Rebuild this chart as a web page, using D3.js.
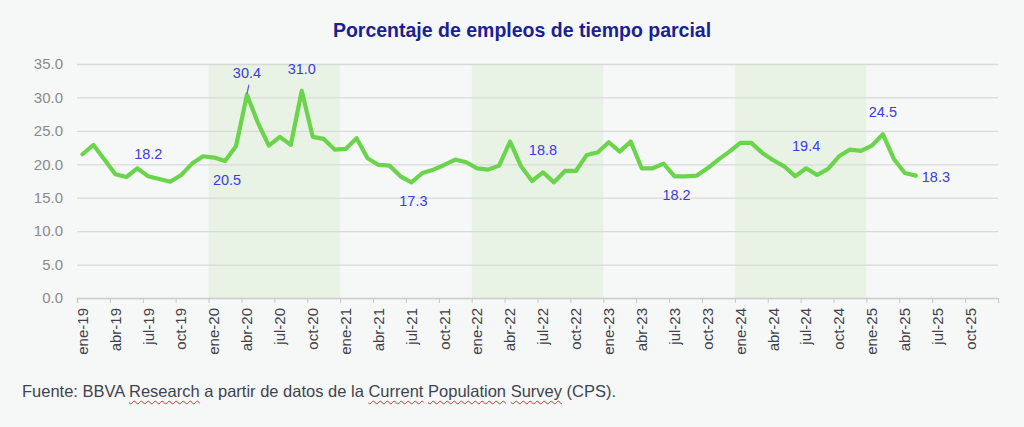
<!DOCTYPE html>
<html>
<head>
<meta charset="utf-8">
<script src="https://cdn.jsdelivr.net/npm/d3@7"></script>
<style>
  html, body { margin: 0; padding: 0; background: #f6f8f8; }
  #chart { position: relative; width: 1024px; height: 427px; font-family: "Liberation Sans", Arial, sans-serif; }
  #note { position: absolute; left: 22px; top: 382px; font-size: 16.5px; color: #3f4350; white-space: nowrap; }
  #note span { text-decoration: underline wavy #e03030; text-decoration-thickness: 1px; text-underline-offset: 3px; }
</style>
</head>
<body>
<div id="chart">
  <div id="note">Fuente: BBVA <span>Research</span> a partir de datos de la <span>Current</span> <span>Population</span> <span>Survey</span> (CPS).</div>
</div>
<script>
// serie mensual ene-19 .. may-25
const values = [
  21.5, 22.9, 20.7, 18.5, 18.1, 19.4, 18.2, 17.8, 17.4, 18.4, 20.1, 21.2,
  21.0, 20.5, 22.7, 30.4, 26.2, 22.8, 24.1, 22.9, 31.0, 24.1, 23.8, 22.2,
  22.3, 23.9, 20.9, 19.9, 19.8, 18.2, 17.3, 18.7, 19.2, 19.9, 20.7, 20.3,
  19.4, 19.2, 19.8, 23.4, 19.7, 17.5, 18.8, 17.3, 19.0, 19.0, 21.4, 21.8,
  23.3, 21.9, 23.4, 19.4, 19.4, 20.1, 18.2, 18.2, 18.3, 19.4, 20.7, 21.9,
  23.2, 23.2, 21.7, 20.6, 19.7, 18.2, 19.4, 18.4, 19.3, 21.2, 22.2, 22.0,
  22.8, 24.5, 20.8, 18.7, 18.3
];
const tickLabels = [
  'ene-19', 'abr-19', 'jul-19', 'oct-19', 'ene-20', 'abr-20', 'jul-20', 'oct-20',
  'ene-21', 'abr-21', 'jul-21', 'oct-21', 'ene-22', 'abr-22', 'jul-22', 'oct-22',
  'ene-23', 'abr-23', 'jul-23', 'oct-23', 'ene-24', 'abr-24', 'jul-24', 'oct-24',
  'ene-25', 'abr-25', 'jul-25', 'oct-25'
];
const totalMonths = 84;          // ene-19 .. dic-25
const yTicks = [0, 5, 10, 15, 20, 25, 30, 35];
const bands = [[12, 24], [36, 48], [60, 72]];   // meses sombreados
// etiquetas de datos: índice del mes y posición
const labelIdx = [6, 13, 15, 20, 30, 42, 54, 66, 73, 76];
const labelPos = ['above', 'below', 'above', 'above', 'below', 'above', 'below', 'above', 'above', 'right'];

const W = 1024, H = 427;
const FONT = '"Liberation Sans", Arial, sans-serif';
const svg = d3.select('#chart').append('svg')
  .attr('width', W).attr('height', H)
  .style('position', 'absolute').style('left', 0).style('top', 0);

const x = d3.scaleLinear().domain([0, totalMonths]).range([77, 998]);
const y = d3.scaleLinear().domain([0, 35]).range([298, 64]);

// bandas verdes
svg.append('g').selectAll('rect')
  .data(bands)
  .join('rect')
  .attr('x', d => x(d[0]))
  .attr('width', d => x(d[1]) - x(d[0]))
  .attr('y', y(35))
  .attr('height', y(0) - y(35))
  .attr('fill', '#e8f3e5');

// eje y + rejilla
const yAxis = svg.append('g')
  .attr('transform', `translate(${x(0)},0)`)
  .call(d3.axisLeft(y).tickValues(yTicks).tickFormat(d3.format('.1f'))
    .tickSize(-(x(totalMonths) - x(0))).tickPadding(14));
yAxis.select('.domain').remove();
yAxis.selectAll('.tick line').attr('stroke', '#d9d9d9').attr('stroke-width', 1.3);
yAxis.selectAll('.tick text').attr('fill', '#8a8a8a')
  .style('font-family', FONT).style('font-size', '15px');

// eje x
const xTickVals = d3.range(0, totalMonths + 1, 3);
const xAxis = svg.append('g')
  .attr('transform', `translate(0,${y(0)})`)
  .call(d3.axisBottom(x).tickValues(xTickVals).tickSize(5)
    .tickFormat(d => tickLabels[d / 3] || ''));
xAxis.select('.domain').attr('stroke', '#d0d0d0').attr('stroke-width', 1.3);
xAxis.selectAll('.tick line').attr('stroke', '#c8c8c8');
xAxis.selectAll('.tick text')
  .attr('fill', '#404048')
  .style('font-family', FONT).style('font-size', '15px')
  .attr('text-anchor', 'end')
  .attr('transform', 'rotate(-90)')
  .attr('x', -10).attr('y', 5).attr('dy', '0.35em');

// línea
const line = d3.line()
  .x((d, i) => x(i + 0.5))
  .y(d => y(d));
svg.append('path')
  .datum(values)
  .attr('d', line)
  .attr('fill', 'none')
  .attr('stroke', '#6ad44a')
  .attr('stroke-width', 4.2)
  .attr('stroke-linejoin', 'round')
  .attr('stroke-linecap', 'round');

// etiquetas de datos
const lbl = svg.append('g')
  .style('font-family', FONT)
  .style('font-size', '14.5px')
  .attr('fill', '#3b3be0');
labelIdx.forEach((i, k) => {
  const pos = labelPos[k];
  const px = x(i + 0.5), py = y(values[i]);
  const t = lbl.append('text').text(values[i].toFixed(1));
  if (pos === 'above') t.attr('x', px).attr('y', py - 17).attr('text-anchor', 'middle');
  else if (pos === 'below') t.attr('x', px + 2).attr('y', py + 24).attr('text-anchor', 'middle');
  else t.attr('x', px + 6).attr('y', py + 6).attr('text-anchor', 'start');
});
// línea guía de 30.4
svg.append('line')
  .attr('x1', x(15.5) + 2).attr('y1', y(values[15]) - 10)
  .attr('x2', x(15.5)).attr('y2', y(values[15]) - 1)
  .attr('stroke', '#5a6ae8').attr('stroke-width', 1.3);

// título
svg.append('text')
  .attr('x', 522).attr('y', 37)
  .attr('text-anchor', 'middle')
  .style('font-family', FONT)
  .style('font-size', '19.5px').style('font-weight', 'bold')
  .attr('fill', '#1a1f96')
  .text('Porcentaje de empleos de tiempo parcial');
</script>
</body>
</html>
